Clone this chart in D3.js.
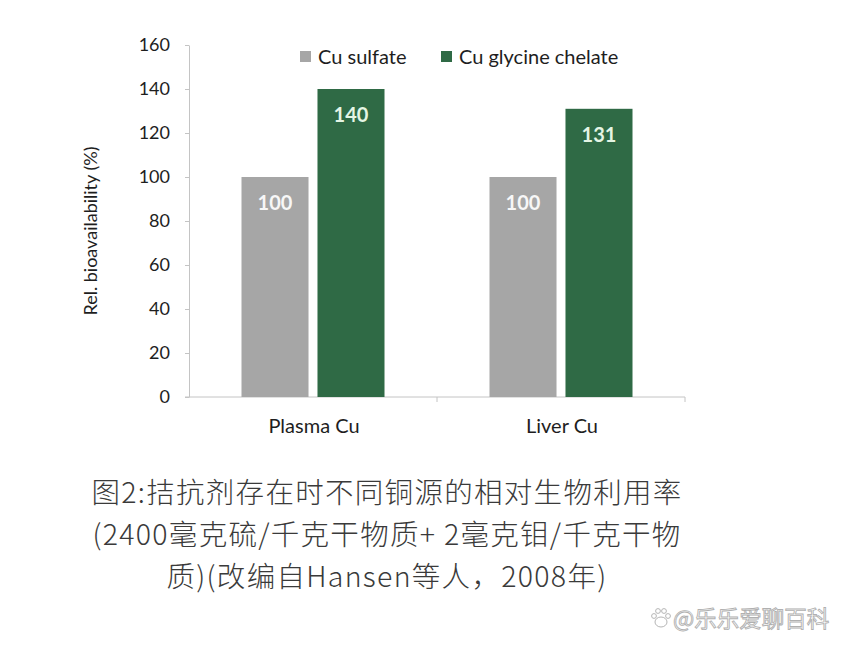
<!DOCTYPE html>
<html>
<head>
<meta charset="utf-8">
<script src="https://cdn.jsdelivr.net/npm/d3@7"></script>
<style>
  html, body { margin: 0; padding: 0; background: #ffffff; }
  svg { display: block; }
</style>
</head>
<body>
<svg id="chart" width="848" height="648"></svg>
<script>
const categories = ["Plasma Cu", "Liver Cu"];
const seriesNames = ["Cu sulfate", "Cu glycine chelate"];
const cuSulfate = [100, 100];
const cuGlycineChelate = [140, 131];
const yTicks = [0, 20, 40, 60, 80, 100, 120, 140, 160];
const yTitle = "Rel. bioavailability (%)";
const captionLines = [
  "图2:拮抗剂存在时不同铜源的相对生物利用率",
  "(2400毫克硫/千克干物质+ 2毫克钼/千克干物",
  "质)(改编自Hansen等人，2008年)"
];
const watermark = "@乐乐爱聊百科";

const colors = { "Cu sulfate": "#a6a6a6", "Cu glycine chelate": "#2f6a45" };
const labelColors = { "Cu sulfate": "#f7f7f7", "Cu glycine chelate": "#e4f5e4" };
const seriesValues = { "Cu sulfate": cuSulfate, "Cu glycine chelate": cuGlycineChelate };

const svg = d3.select("#chart");
const font = "Lato, 'Open Sans', sans-serif";
const axisColor = "#c4c4c4";

const x0 = d3.scaleBand().domain(categories).range([189, 685]).paddingInner(0.4234).paddingOuter(0.2117);
const x1 = d3.scaleBand().domain(seriesNames).range([0, x0.bandwidth()]).paddingInner(0.118).paddingOuter(0);
const y = d3.scaleLinear().domain([0, 160]).range([397, 45]);

// Y axis
const yAxis = svg.append("g").attr("transform", "translate(189,0)")
  .call(d3.axisLeft(y).tickValues(yTicks).tickSize(4).tickPadding(15).tickSizeOuter(0));
yAxis.select(".domain").attr("stroke", axisColor);
yAxis.selectAll(".tick line").attr("stroke", axisColor);
yAxis.selectAll(".tick text").attr("fill", "#1e1e1e").style("font-family", font).style("font-size", "18px");

// X axis line with category boundary ticks
const xAxisG = svg.append("g");
xAxisG.append("line").attr("x1", 185).attr("x2", 685).attr("y1", y(0)).attr("y2", y(0))
  .attr("stroke", axisColor);
const boundaries = [x0.range()[0], (x0(categories[0]) + x0.bandwidth() + x0(categories[1])) / 2, x0.range()[1]];
xAxisG.selectAll("line.bt").data(boundaries.slice(1)).join("line").attr("class", "bt")
  .attr("x1", d => d).attr("x2", d => d).attr("y1", y(0)).attr("y2", y(0) + 5)
  .attr("stroke", axisColor);
xAxisG.selectAll("text.cat").data(categories).join("text").attr("class", "cat")
  .attr("x", d => x0(d) + x0.bandwidth() / 2 + 1).attr("y", 425)
  .attr("text-anchor", "middle").attr("dominant-baseline", "central")
  .attr("fill", "#1e1e1e").style("font-family", font).style("font-size", "20px")
  .text(d => d);

// Bars
const groups = svg.append("g").selectAll("g").data(categories).join("g")
  .attr("transform", d => `translate(${x0(d)},0)`);
groups.selectAll("rect").data((d, i) => seriesNames.map(s => ({ s, v: seriesValues[s][i] })))
  .join("rect")
  .attr("x", d => x1(d.s)).attr("width", x1.bandwidth())
  .attr("y", d => y(d.v)).attr("height", d => y(0) - y(d.v))
  .attr("fill", d => colors[d.s]);
groups.selectAll("text").data((d, i) => seriesNames.map(s => ({ s, v: seriesValues[s][i] })))
  .join("text")
  .attr("x", d => x1(d.s) + x1.bandwidth() / 2).attr("y", d => y(d.v) + 25)
  .attr("text-anchor", "middle").attr("dominant-baseline", "central")
  .attr("fill", d => labelColors[d.s])
  .style("font-family", font).style("font-size", "20px").style("font-weight", "bold")
  .text(d => d.v);

// Y title
svg.append("text").attr("transform", "translate(90,231) rotate(-90)")
  .attr("text-anchor", "middle").attr("dominant-baseline", "central")
  .attr("fill", "#1e1e1e").style("font-family", font).style("font-size", "18px")
  .text(yTitle);

// Legend
const legendPos = [{ sx: 300, tx: 318 }, { sx: 441, tx: 459 }];
const legend = svg.append("g").selectAll("g").data(seriesNames).join("g");
legend.append("rect").attr("x", (d, i) => legendPos[i].sx).attr("y", 51)
  .attr("width", 11).attr("height", 11).attr("fill", d => colors[d]);
legend.append("text").attr("x", (d, i) => legendPos[i].tx).attr("y", 56)
  .attr("dominant-baseline", "central").attr("fill", "#1e1e1e")
  .style("font-family", font).style("font-size", "20px").text(d => d);

// Caption
svg.append("g").selectAll("text").data(captionLines).join("text")
  .attr("x", 387).attr("y", (d, i) => [490, 532, 574][i])
  .attr("text-anchor", "middle").attr("dominant-baseline", "central")
  .attr("fill", "#3a3a3a")
  .style("font-family", "'Noto Sans CJK SC', sans-serif").style("font-size", "28.5px")
  .style("font-weight", "300").style("letter-spacing", "1.3px")
  .text(d => d);

// Watermark
const wm = svg.append("g");
const paw = wm.append("g").attr("transform", "translate(661,618)").attr("fill", "#fff").attr("stroke", "#b5b5b5").attr("stroke-width", 1);
paw.append("ellipse").attr("cx", 0).attr("cy", 4).attr("rx", 6).attr("ry", 5);
[[-7, -2], [-3, -7], [3, -7], [7, -2]].forEach(p => paw.append("circle").attr("cx", p[0]).attr("cy", p[1]).attr("r", 2.4));
wm.append("text").attr("x", 673).attr("y", 617).attr("dominant-baseline", "central")
  .attr("fill", "#ffffff").attr("stroke", "#b0b0b0").attr("stroke-width", 0.9)
  .style("font-family", "'Noto Sans CJK SC', sans-serif").style("font-size", "22.5px")
  .text(watermark);
</script>
</body>
</html>
